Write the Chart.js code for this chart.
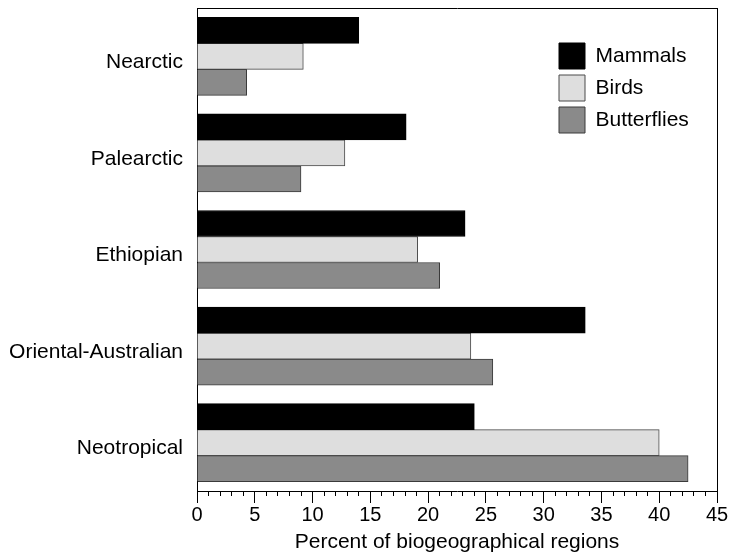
<!DOCTYPE html>
<html>
<head>
<meta charset="utf-8">
<script src="https://cdn.jsdelivr.net/npm/chart.js@4"></script>
<style>
	html, body { margin: 0; padding: 0; background: #fff; }
	#wrap { width: 732px; height: 556px; }
</style>
</head>
<body>
<div id="wrap"><canvas id="chart" width="732" height="556"></canvas></div>
<script>
var REGIONS = ['Nearctic', 'Palearctic', 'Ethiopian', 'Oriental-Australian', 'Neotropical'];
var MAMMALS = [14.0, 18.1, 23.2, 33.6, 24.0];
var BIRDS = [9.2, 12.8, 19.1, 23.7, 40.0];
var BUTTERFLIES = [4.3, 9.0, 21.0, 25.6, 42.5];
var SERIES_NAMES = ['Mammals', 'Birds', 'Butterflies'];

Chart.defaults.font.family = '"Liberation Sans", Arial, Helvetica, sans-serif';
Chart.defaults.font.size = 20;
Chart.defaults.color = '#000';

// legend sits inside the plot, top right
var legendMover = {
	id: 'legendMover',
	afterLayout: function(chart) {
		var lg = chart.legend;
		if (!lg) return;
		lg.left = 553;
		lg.top = 37;
	}
};

var canvas = document.getElementById('chart');
canvas._chart = new Chart(canvas, {
	type: 'bar',
	data: {
		labels: REGIONS,
		datasets: [
			{ label: SERIES_NAMES[0], data: MAMMALS, backgroundColor: '#000000', borderColor: '#000000', borderWidth: 1 },
			{ label: SERIES_NAMES[1], data: BIRDS, backgroundColor: '#dedede', borderColor: '#4a4a4a', borderWidth: 1 },
			{ label: SERIES_NAMES[2], data: BUTTERFLIES, backgroundColor: '#8a8a8a', borderColor: '#3a3a3a', borderWidth: 1 }
		]
	},
	options: {
		indexAxis: 'y',
		responsive: false,
		animation: false,
		barThickness: 26,
		layout: { padding: { left: 0, right: 15, top: 8, bottom: 0 } },
		plugins: {
			legend: {
				position: 'chartArea',
				align: 'start',
				labels: { boxWidth: 26, boxHeight: 26, padding: 6, color: '#000', font: { size: 21 } }
			},
			tooltip: { enabled: false }
		},
		scales: {
			y: {
				position: 'left',
				grid: { display: false, drawTicks: false },
				border: { display: true, color: '#000', width: 1 },
				ticks: { padding: 14, labelOffset: 6, color: '#000', font: { size: 21 } },
				afterFit: function(axis) {
					axis.width = 197;
					// labels must not push the plot down
					axis.paddingTop = 0;
					axis.paddingBottom = 0;
				}
			},
			y2: {
				type: 'linear',
				position: 'right',
				min: 0, max: 1,
				grid: { display: false, drawTicks: false },
				border: { display: true, color: '#000', width: 1 },
				ticks: { display: false }
			},
			x: {
				type: 'linear',
				position: 'bottom',
				min: 0, max: 45,
				grid: { display: true, drawOnChartArea: false, drawTicks: true, tickLength: 12, color: '#000', tickColor: '#000' },
				border: { display: true, color: '#000', width: 1 },
				ticks: { stepSize: 5, padding: 0, color: '#000', font: { size: 20 } },
				title: { display: true, text: 'Percent of biogeographical regions', color: '#000', font: { size: 21 }, padding: { top: 0, bottom: 1 } },
				afterFit: function(axis) { axis.height = 65; }
			},
			xMinor: {
				type: 'linear',
				axis: 'x',
				position: { y: 4.5 },
				min: 0, max: 45,
				grid: { display: true, drawOnChartArea: false, drawTicks: true, tickLength: 5, color: '#000', tickColor: '#000' },
				border: { display: false },
				ticks: { display: false, stepSize: 1 }
			},
			x2: {
				type: 'linear',
				position: 'top',
				min: 0, max: 45,
				grid: { display: false, drawTicks: false },
				border: { display: true, color: '#000', width: 1 },
				ticks: { display: false }
			}
		}
	},
	plugins: [legendMover]
});
</script>
</body>
</html>
